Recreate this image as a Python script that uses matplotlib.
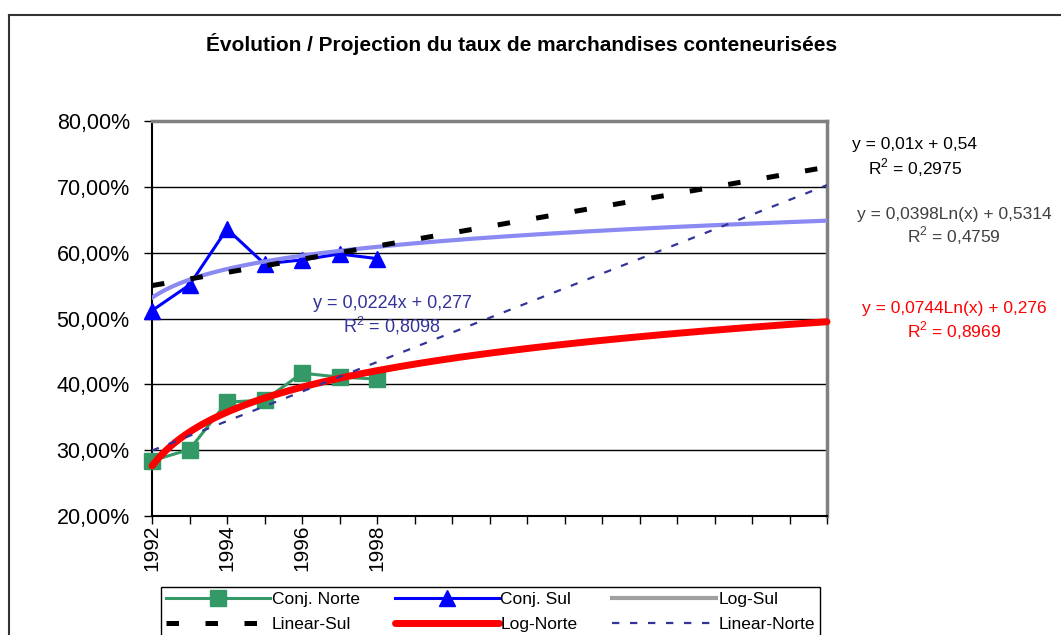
import numpy as np
import matplotlib
matplotlib.use("Agg")
import matplotlib.pyplot as plt
from matplotlib.lines import Line2D

plt.rcParams['font.family'] = ['Liberation Sans', 'DejaVu Sans']
plt.rcParams['mathtext.fontset'] = 'custom'
plt.rcParams['mathtext.rm'] = 'Liberation Sans'

# Data
years = [1992, 1993, 1994, 1995, 1996, 1997, 1998]
conj_norte = [0.284, 0.301, 0.373, 0.376, 0.417, 0.411, 0.408]
conj_sul = [0.512, 0.551, 0.636, 0.583, 0.589, 0.598, 0.591]

axis_years = list(range(1992, 2011))
year_labels = ['1992', '', '1994', '', '1996', '', '1998'] + [''] * 12

# Trendline coefficients as shown on the chart (x = 1 for 1992)
lin_sul = [0.01, 0.54]
log_sul = [0.0398, 0.5314]
log_norte = [0.0744, 0.276]
lin_norte = [0.0224, 0.277]

eq_lin_sul = ['y = 0,01x + 0,54', 'R$^{2}$ = 0,2975']
eq_log_sul = ['y = 0,0398Ln(x) + 0,5314', 'R$^{2}$ = 0,4759']
eq_log_norte = ['y = 0,0744Ln(x) + 0,276', 'R$^{2}$ = 0,8969']
eq_lin_norte = ['y = 0,0224x + 0,277', 'R$^{2}$ = 0,8098']

yticks = [0.2, 0.3, 0.4, 0.5, 0.6, 0.7, 0.8]

fig = plt.figure(figsize=(10.61, 6.35), dpi=100)
ax = fig.add_axes([152 / 1061, 1 - 516 / 635, 675 / 1061, 395 / 635])

# outer chart frame
fig.add_artist(Line2D([9 / 1061, 1.0], [1 - 15 / 635] * 2, color='#333333', lw=1.5))
fig.add_artist(Line2D([9 / 1061] * 2, [1 - 15 / 635, 0.0], color='#333333', lw=1.5))

fig.text(522 / 1061, 1 - 44 / 635,
         'Évolution / Projection du taux de marchandises conteneurisées',
         ha='center', va='center', fontsize=15, fontweight='bold')

ax.plot(years, conj_norte, color='#339966', lw=2.2, marker='s', ms=11, zorder=3,
        clip_on=False)
ax.plot(years, conj_sul, color='#0000ff', lw=2.2, marker='^', ms=12, zorder=3,
        clip_on=False)

xs = np.linspace(1, len(axis_years), 400)
xyear = xs + axis_years[0] - 1
ax.plot(xyear, log_sul[0] * np.log(xs) + log_sul[1], color='#8a8af2', lw=3, zorder=4)
ax.plot(xyear, lin_sul[0] * xs + lin_sul[1], color='black', lw=3.6,
        linestyle=(0, (2.5, 5.3)), zorder=5)
ax.plot(xyear, log_norte[0] * np.log(xs) + log_norte[1], color='#ff0000', lw=5,
        zorder=5, solid_capstyle='round', clip_on=False)
ax.plot(xyear, lin_norte[0] * xs + lin_norte[1], color='#333399', lw=1.6,
        linestyle=(0, (3.3, 4.8)), zorder=5)

ax.set_xlim(axis_years[0], axis_years[-1])
ax.set_ylim(0.2, 0.8)
ax.set_yticks(yticks)
ax.set_yticklabels([('%.2f%%' % (v * 100)).replace('.', ',') for v in yticks])
ax.set_xticks(axis_years)
ax.set_xticklabels(year_labels, rotation=90)
ax.tick_params(axis='y', labelsize=15.5, direction='out', length=6, width=1, pad=10)
ax.tick_params(axis='x', labelsize=15, direction='out', length=6, width=1, pad=0)
ax.grid(axis='y', color='black', lw=1)
ax.set_axisbelow(True)
for side in ['top', 'right']:
    ax.spines[side].set_color('#808080')
    ax.spines[side].set_linewidth(2.5)
for side in ['left', 'bottom']:
    ax.spines[side].set_color('black')
    ax.spines[side].set_linewidth(1.5)

# equation labels
def eq(x, y1, y2, lines, color, size=12.5):
    fig.text(x / 1061, 1 - y1 / 635, lines[0], ha='center', va='center',
             fontsize=size, color=color)
    fig.text(x / 1061, 1 - y2 / 635, lines[1], ha='center', va='center',
             fontsize=size, color=color)

eq(915, 145, 168, eq_lin_sul, 'black')
eq(954, 214, 236, eq_log_sul, '#404040')
eq(954, 309, 331, eq_log_norte, '#ff0000')
eq(392, 304, 326, eq_lin_norte, '#333399', size=13)

# legend (column-major order to get row-major layout)
h_norte = Line2D([], [], color='#339966', lw=2.2, marker='s', ms=11)
h_sul = Line2D([], [], color='#0000ff', lw=2.2, marker='^', ms=12)
h_logsul = Line2D([], [], color='#a0a0a0', lw=3)
h_linsul = Line2D([], [], color='black', lw=3.6, linestyle=(0, (2.5, 5.3)))
h_lognorte = Line2D([], [], color='#ff0000', lw=5, solid_capstyle='round')
h_linnorte = Line2D([], [], color='#333399', lw=1.6, linestyle=(0, (3.3, 4.8)))
handles = [h_norte, h_linsul, h_sul, h_lognorte, h_logsul, h_linnorte]
labels = ['Conj. Norte', 'Linear-Sul', 'Conj. Sul', 'Log-Norte', 'Log-Sul', 'Linear-Norte']
leg = fig.legend(handles, labels, ncol=3, loc='upper left',
                 bbox_to_anchor=(152 / 1061, 1 - 578 / 635), fontsize=12.5,
                 handlelength=6, handletextpad=0.1, columnspacing=2.0,
                 labelspacing=0.55, borderpad=0.3, numpoints=1,
                 frameon=True, fancybox=False, edgecolor='black', framealpha=1)
leg.get_frame().set_linewidth(1)

fig.savefig('out.png', dpi=100)
